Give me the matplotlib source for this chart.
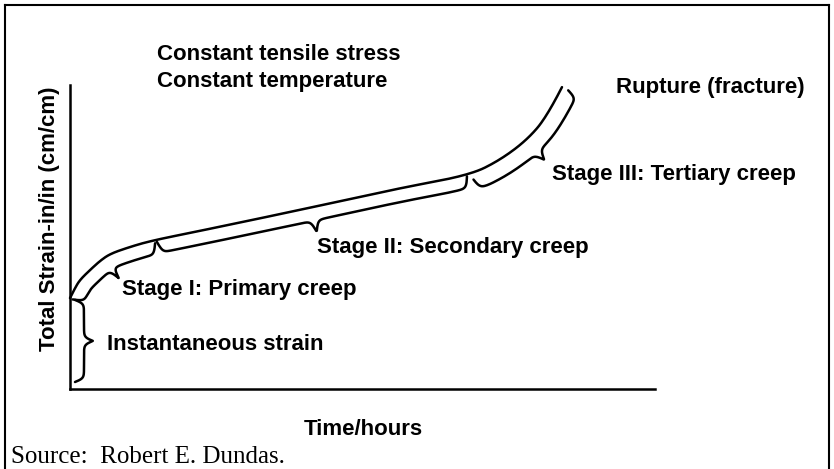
import numpy as np
import matplotlib
matplotlib.use('Agg')
import matplotlib.pyplot as plt
from matplotlib.lines import Line2D

# Schematic creep curve (arbitrary units, 0-100 on both axes)
time = [0, 0.85, 1.7, 3.4, 5.1, 6.8, 9.7, 13.7, 22.2, 39.3, 56.4, 68.4, 73.5, 78.1, 81.5, 84.1]
strain = [29.9, 33.2, 35.9, 39.1, 42.1, 44.4, 46.4, 48.7, 52.0, 58.9, 66.1, 70.4, 75.3, 81.9, 89.5, 99.3]

# Where each stage starts and ends along the time axis
stage_start = [0.0, 14.5, 68.4]
stage_end = [14.5, 68.0, 84.6]
# Extent of the instantaneous strain brace on the strain axis
instant_strain = [2.3, 29.3]

W, H = 834, 469
SANS = ['Liberation Sans', 'DejaVu Sans']
SERIF = ['Liberation Serif', 'DejaVu Serif']
LW = 1.8


def fx(px):
    return px / W


def fy(py):
    return 1 - py / H


def smooth(xs, ys, n=20):
    # quadratic bezier through segment midpoints, so the sketch has no corners
    p = np.column_stack([xs, ys]).astype(float)
    if len(p) < 3:
        return p[:, 0], p[:, 1]
    mids = (p[1:-2] + p[2:-1]) / 2
    starts = np.vstack([p[:1], mids])
    ctrls = p[1:-1]
    ends = np.vstack([mids, p[-1:]])
    t = np.linspace(0, 1, n)[:, None]
    out = [p[:1]]
    for a, c, b in zip(starts, ctrls, ends):
        seg = (1 - t) ** 2 * a + 2 * (1 - t) * t * c + t ** 2 * b
        out.append(seg[1:])
    out = np.vstack(out)
    return out[:, 0], out[:, 1]


def draw_brace(ax, xs, ys, gap, height, beta=0.55):
    # curly brace that follows a path (in data coords), bulging to the right of travel
    pts = ax.transData.transform(np.column_stack([xs, ys]))
    seg = np.hypot(*np.diff(pts, axis=0).T)
    s = np.concatenate([[0], np.cumsum(seg)])
    L = s[-1]
    d = np.linspace(0, L, 500)
    px = np.interp(d, s, pts[:, 0])
    py = np.interp(d, s, pts[:, 1])
    tx = np.gradient(px)
    ty = np.gradient(py)
    k = np.ones(11) / 11
    tx = np.convolve(np.pad(tx, 5, mode='edge'), k, mode='valid')
    ty = np.convolve(np.pad(ty, 5, mode='edge'), k, mode='valid')
    n = np.hypot(tx, ty)
    nx, ny = ty / n, -tx / n
    half = np.minimum(d, L - d)
    prof = 1 / (1 + np.exp(-beta * half)) + 1 / (1 + np.exp(-beta * (half - L / 2))) - 0.5
    off = gap + height * prof
    out = np.column_stack([px + nx * off, py + ny * off])
    data = ax.transData.inverted().transform(out)
    ax.plot(data[:, 0], data[:, 1], color='black', lw=LW, clip_on=False,
            solid_capstyle='round', solid_joinstyle='round')


fig = plt.figure(figsize=(W / 100, H / 100), dpi=100)
ax = fig.add_axes([fx(70), fy(389), (655 - 70) / W, (389 - 85) / H])
ax.set_xlim(0, 100)
ax.set_ylim(0, 100)
ax.set_xticks([])
ax.set_yticks([])
for side in ['top', 'right']:
    ax.spines[side].set_visible(False)
for side in ['left', 'bottom']:
    ax.spines[side].set_linewidth(1.8)

cx, cy = smooth(time, strain)
ax.plot(cx, cy, color='black', lw=LW, clip_on=False, solid_capstyle='round')

# stage braces along the curve
gaps = [3, 2, 7]
heights = [22, 23, 20]
for t0, t1, g, h in zip(stage_start, stage_end, gaps, heights):
    keep = (cx >= t0) & (cx <= t1)
    draw_brace(ax, cx[keep], cy[keep], g, h)

# instantaneous strain brace along the strain axis
draw_brace(ax, [0, 0], instant_strain, 5, 18)

# labels
bold = dict(family=SANS, fontweight='bold', fontsize=16, va='baseline', ha='left')
fig.text(fx(157), fy(60), 'Constant tensile stress', **bold)
fig.text(fx(157), fy(87), 'Constant temperature', **bold)
fig.text(fx(616), fy(93), 'Rupture (fracture)', **bold)
fig.text(fx(552), fy(180), 'Stage III: Tertiary creep', **bold)
fig.text(fx(317), fy(253), 'Stage II: Secondary creep', **bold)
fig.text(fx(122), fy(295), 'Stage I: Primary creep', **bold)
fig.text(fx(107), fy(350), 'Instantaneous strain', **bold)

fig.text(fx(50), fy(219), 'Total Strain-in/in (cm/cm)', family=SANS, fontweight='bold',
         fontsize=16, rotation=90, ha='center', va='center')
fig.text(fx(363), fy(435), 'Time/hours', family=SANS, fontweight='bold',
         fontsize=16, ha='center', va='baseline')
fig.text(fx(11), fy(463), 'Source:  Robert E. Dundas.', family=SERIF,
         fontsize=18, ha='left', va='baseline')

# frame around the whole figure
for xy in [([5, 5], [5, H]), ([5, 829], [5, 5]), ([829, 829], [5, H])]:
    fig.add_artist(Line2D([fx(v) for v in xy[0]], [fy(v) for v in xy[1]],
                          color='black', lw=1.5))

fig.savefig('out.png', dpi=100)
